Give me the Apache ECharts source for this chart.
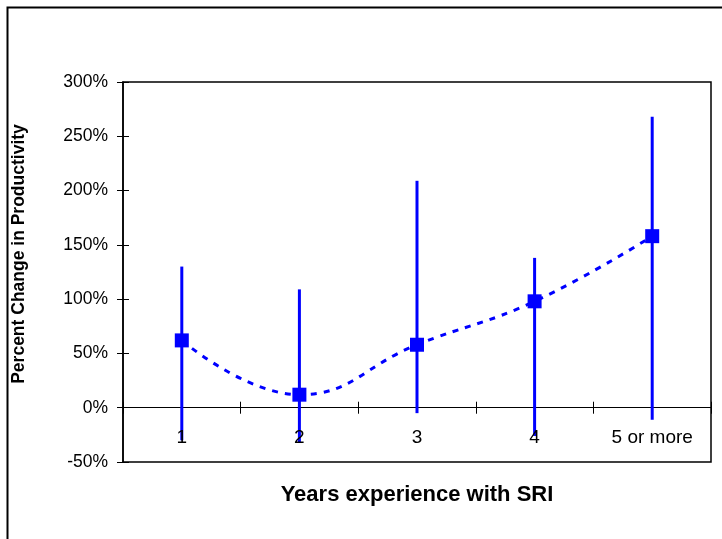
<!DOCTYPE html>
<html>
<head>
<meta charset="utf-8">
<script src="https://cdn.jsdelivr.net/npm/echarts@6/dist/echarts.min.js"></script>
<style>html,body{margin:0;padding:0;background:#fff;}#c{width:722px;height:539px;}</style>
</head>
<body>
<div id="c"></div>
<script>
const categories = ['1', '2', '3', '4', '5 or more'];
const means = [62, 12, 58, 98, 158];
const upper = [130, 109, 209, 138, 268];
const lower = [-30, -32, -5, -26, -11];
const yTicks = { min: -50, max: 300, interval: 50 };

const chart = echarts.init(document.getElementById('c'), null, { renderer: 'canvas' });
const BLUE = '#0000FF';
const FONT = '"Liberation Sans", Arial, sans-serif';

const errData = categories.map((c, i) => [i, lower[i], upper[i]]);

const tickAxisX = (inside) => ({
  type: 'category', data: categories, position: 'bottom',
  axisLine: { show: !inside, onZero: true, lineStyle: { color: '#000', width: 1.2 } },
  axisTick: { show: true, inside: inside, length: 6, lineStyle: { color: '#000', width: 1 } },
  axisLabel: { show: false }, splitLine: { show: false }
});

chart.setOption({
  animation: false,
  backgroundColor: '#fff',
  graphic: [{
    type: 'rect', shape: { x: 7.5, y: 7.5, width: 800, height: 600 },
    style: { fill: 'none', stroke: '#000', lineWidth: 2 }, silent: true, z: 0
  }],
  grid: { left: 123, top: 82, right: 11, bottom: 77, show: true, borderColor: '#000', borderWidth: 1.5, backgroundColor: 'transparent', outerBoundsMode: 'none', containLabel: false },
  xAxis: [{
    type: 'category', data: categories, position: 'bottom', z: 5,
    axisLine: { show: false, onZero: false },
    axisTick: { show: false },
    axisLabel: { inside: true, color: '#000', fontSize: 19, fontFamily: FONT, margin: 15 },
    name: 'Years experience with SRI', nameLocation: 'middle', nameGap: 22,
    nameTextStyle: { color: '#000', fontSize: 22, fontWeight: 'bold', fontFamily: FONT },
    splitLine: { show: false }
  }, tickAxisX(false), tickAxisX(true)],
  yAxis: [{
    type: 'value', min: yTicks.min, max: yTicks.max, interval: yTicks.interval, position: 'left',
    axisLine: { show: true, onZero: false, lineStyle: { color: '#000', width: 1.5 } },
    axisTick: { show: true, length: 6, lineStyle: { color: '#000', width: 1 } },
    axisLabel: { color: '#000', fontSize: 17.5, fontFamily: FONT, margin: 15, formatter: '{value}%' },
    splitLine: { show: false },
    name: 'Percent Change in Productivity', nameLocation: 'middle', nameGap: 95, nameRotate: 90,
    nameTextStyle: { color: '#000', fontSize: 17.5, fontWeight: 'bold', fontFamily: FONT, padding: [0, 0, 0, 36] }
  }, {
    type: 'value', min: yTicks.min, max: yTicks.max, interval: yTicks.interval, position: 'left', offset: 0,
    axisLine: { show: false, onZero: false },
    axisTick: { show: true, inside: true, length: 6, lineStyle: { color: '#000', width: 1 } },
    axisLabel: { show: false }, splitLine: { show: false }
  }],
  series: [{
    type: 'custom', xAxisIndex: 0, yAxisIndex: 0, data: errData, z: 2,
    renderItem: function (params, api) {
      const x = api.value(0);
      const p1 = api.coord([x, api.value(1)]);
      const p2 = api.coord([x, api.value(2)]);
      return { type: 'line', shape: { x1: p1[0], y1: p1[1], x2: p2[0], y2: p2[1] }, style: { stroke: BLUE, lineWidth: 3 } };
    }
  }, {
    type: 'line', xAxisIndex: 0, yAxisIndex: 0, data: means, smooth: 0.45, z: 3,
    symbol: 'rect', symbolSize: 14,
    itemStyle: { color: BLUE },
    lineStyle: { color: BLUE, width: 3, type: [6, 7] }
  }]
});
</script>
</body>
</html>
